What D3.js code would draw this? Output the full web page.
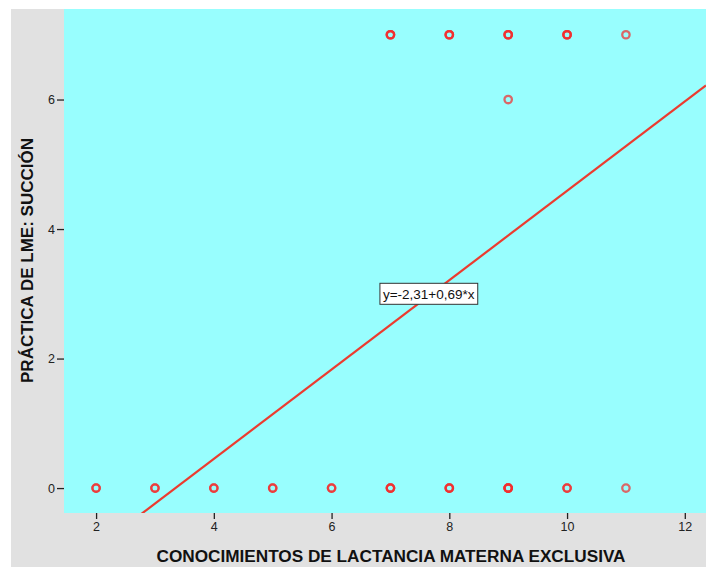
<!DOCTYPE html>
<html>
<head>
<meta charset="utf-8">
<script src="https://cdn.jsdelivr.net/npm/d3@7"></script>
<style>
  html, body { margin: 0; padding: 0; background: #ffffff; }
  svg { display: block; }
  text { font-family: "Liberation Sans", Arial, sans-serif; }
</style>
</head>
<body>
<script>
// Observed scores: knowledge (x), suction practice (y), and how many cases share each spot
const knowledge = [2, 3, 4, 5, 6, 7, 8, 9, 10, 11, 7, 8, 9, 10, 11, 9];
const suction   = [0, 0, 0, 0, 0, 0, 0, 0, 0,  0,  7, 7, 7, 7,  7,  6];
const cases     = [2, 2, 2, 2, 2, 3, 3, 4, 2,  1,  3, 3, 3, 3,  1,  1];

// Fitted line y = a + b*x
const intercept = -2.31;
const slope = 0.69;
const fitLabel = "y=-2,31+0,69*x";

const xTicks = [2, 4, 6, 8, 10, 12];
const yTicks = [0, 2, 4, 6];
const xTitle = "CONOCIMIENTOS DE LACTANCIA MATERNA EXCLUSIVA";
const yTitle = "PRÁCTICA DE LME: SUCCIÓN";

const W = 706, H = 567;
const plot = { left: 64, top: 9, right: 706, bottom: 513 };

const x = d3.scaleLinear().domain([1.455, 12.36]).range([plot.left, plot.right]);
const y = d3.scaleLinear().domain([-0.385, 7.398]).range([plot.bottom, plot.top]);

const svg = d3.select("body").append("svg")
  .attr("width", W).attr("height", H);

// Outer panel and plotting area
svg.append("rect").attr("x", 11).attr("y", 9).attr("width", W - 11).attr("height", H - 9)
  .attr("fill", "#e1e1e1");
svg.append("rect").attr("x", plot.left).attr("y", plot.top)
  .attr("width", plot.right - plot.left).attr("height", plot.bottom - plot.top)
  .attr("fill", "#98fefe");

// Axes
const xAxis = d3.axisBottom(x).tickValues(xTicks).tickSize(6).tickPadding(3);
const gx = svg.append("g").attr("transform", `translate(0,${plot.bottom})`).call(xAxis);
gx.select(".domain").remove();
gx.selectAll(".tick line").attr("stroke", "#222").attr("stroke-width", 1.3);
gx.selectAll(".tick text").attr("fill", "#222").style("font-size", "12.5px")
  .style("font-family", "'Liberation Sans', Arial, sans-serif");

const yAxis = d3.axisLeft(y).tickValues(yTicks).tickSize(7).tickPadding(2);
const gy = svg.append("g").attr("transform", `translate(${plot.left},0)`).call(yAxis);
gy.select(".domain").remove();
gy.selectAll(".tick line").attr("stroke", "#222").attr("stroke-width", 1.3);
gy.selectAll(".tick text").attr("fill", "#222").style("font-size", "12.5px")
  .style("font-family", "'Liberation Sans', Arial, sans-serif");

// Clip marks to the plotting area
svg.append("clipPath").attr("id", "plotClip").append("rect")
  .attr("x", plot.left).attr("y", plot.top)
  .attr("width", plot.right - plot.left).attr("height", plot.bottom - plot.top);

const marks = svg.append("g").attr("clip-path", "url(#plotClip)");

// Regression line across the x range
const [x0, x1] = x.domain();
marks.append("line")
  .attr("x1", x(x0)).attr("y1", y(intercept + slope * x0))
  .attr("x2", x(x1)).attr("y2", y(intercept + slope * x1))
  .attr("stroke", "#ec3b2f").attr("stroke-width", 2.2);

// Points: repeated cases are stacked, so busier spots look heavier
const pts = [];
knowledge.forEach((kx, i) => {
  for (let k = 0; k < cases[i]; k++) pts.push({ x: kx, y: suction[i] });
});
marks.selectAll("circle.pt").data(pts).join("circle")
  .attr("class", "pt")
  .attr("cx", d => x(d.x)).attr("cy", d => y(d.y))
  .attr("r", 3.7)
  .attr("fill", "none")
  .attr("stroke", "#f22c2c")
  .attr("stroke-opacity", 0.72)
  .attr("stroke-width", 2.3);

// Equation label on the line
const lx = 7.65;
const labelG = svg.append("g")
  .attr("transform", `translate(${x(lx)},${y(3.0)})`);
const lbl = labelG.append("text")
  .attr("text-anchor", "middle").attr("dy", "0.36em")
  .attr("fill", "#111").style("font-size", "13.5px")
  .text(fitLabel);
const bb = lbl.node().getBBox();
labelG.insert("rect", "text")
  .attr("x", bb.x - 3).attr("y", -10.5)
  .attr("width", bb.width + 6).attr("height", 21)
  .attr("fill", "#ffffff").attr("stroke", "#333").attr("stroke-width", 1);

// Axis titles
svg.append("text")
  .attr("x", 391).attr("y", 562)
  .attr("text-anchor", "middle")
  .attr("textLength", 469).attr("lengthAdjust", "spacingAndGlyphs")
  .attr("fill", "#111").style("font-size", "16px").style("font-weight", "bold")
  .text(xTitle);

svg.append("text")
  .attr("transform", "translate(33,260.5) rotate(-90)")
  .attr("text-anchor", "middle")
  .attr("textLength", 245).attr("lengthAdjust", "spacingAndGlyphs")
  .attr("fill", "#111").style("font-size", "16px").style("font-weight", "bold")
  .text(yTitle);
</script>
</body>
</html>
